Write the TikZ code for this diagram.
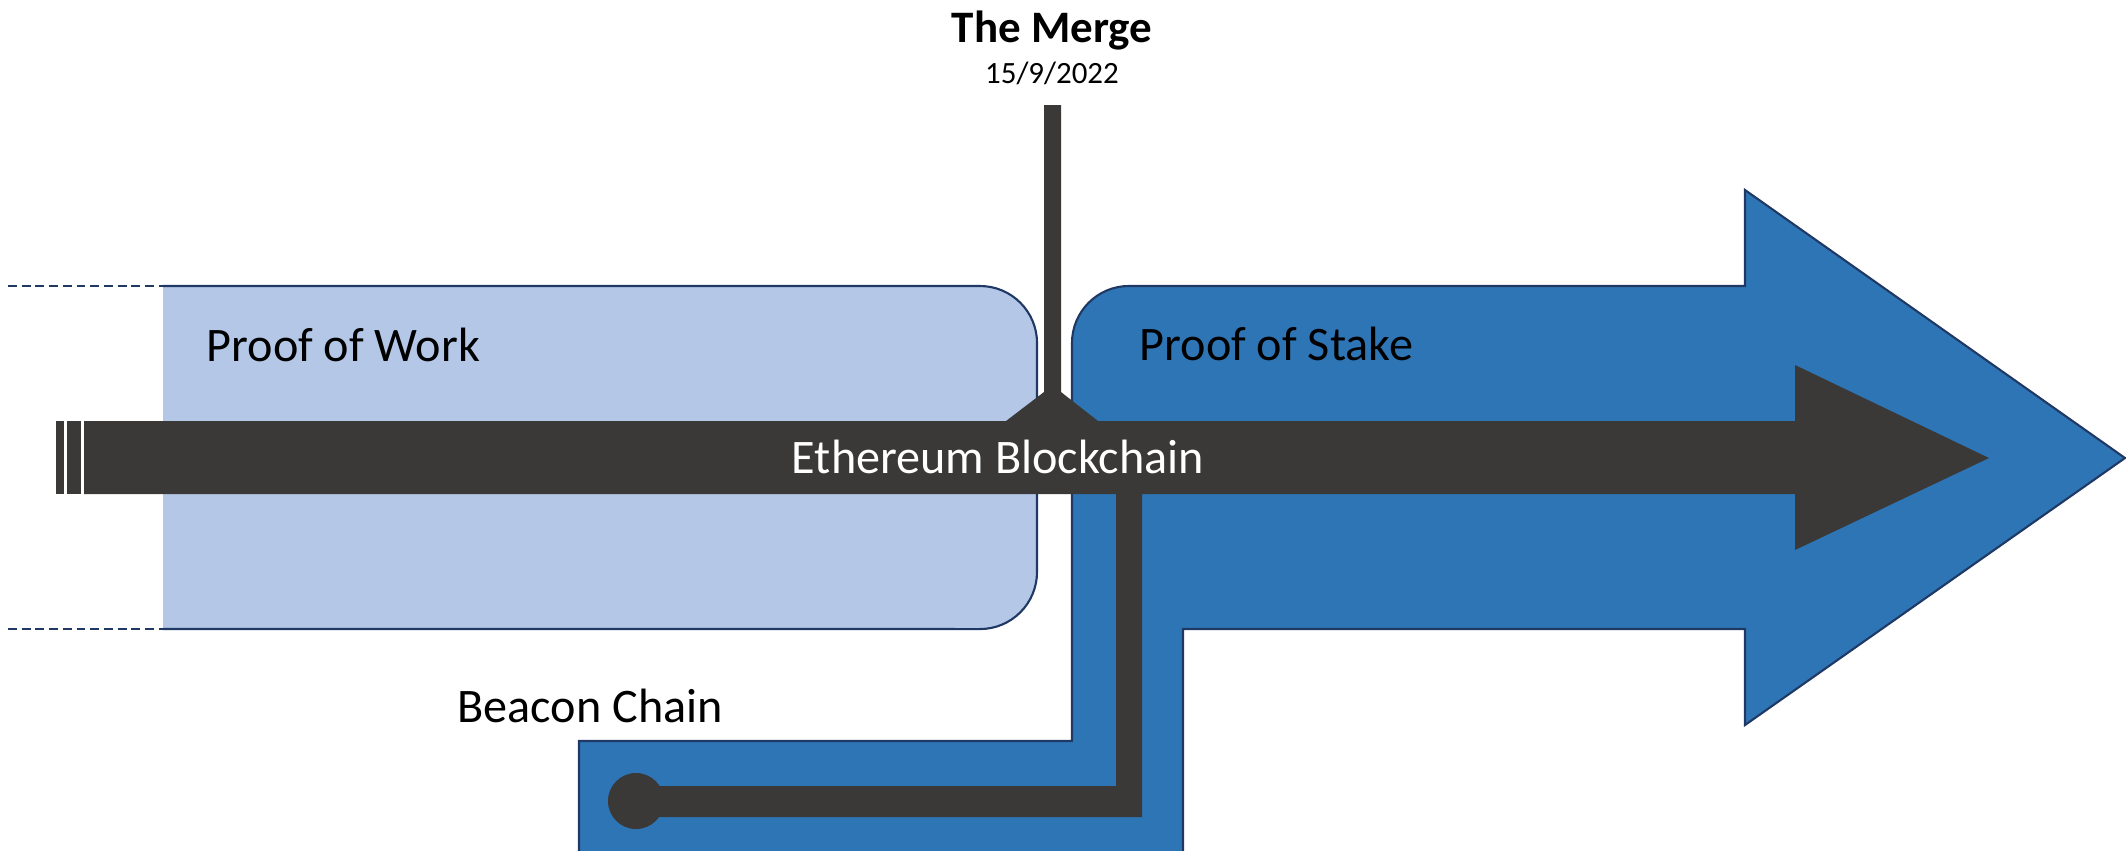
\documentclass[tikz,border=0pt]{standalone}
\usepackage{fontspec}
\setmainfont{Carlito}
\usepackage{tikz}
\usetikzlibrary{calc}

\definecolor{powblue}{HTML}{B4C7E7}
\definecolor{posblue}{HTML}{2E75B6}
\definecolor{rimblue}{HTML}{1F3864}
\definecolor{chaingray}{HTML}{3A3938}

\begin{document}
\begin{tikzpicture}[x=0.01cm,y=-0.01cm]

\tikzstyle{chainfill}=[fill=chaingray,draw=none]
\tikzstyle{rim}=[draw=rimblue,line width=0.6pt]
\tikzstyle{eratext}=[inner sep=0pt,font=\fontsize{13.7}{16}\selectfont]

\useasboundingbox (0,0) rectangle (2126,850);
\clip (0,0) rectangle (2126,850);

% ERA LIMITS
\draw [rim,dash pattern=on 2.5pt off 1.4pt] (8,286) -- (200,286);
\draw [rim,dash pattern=on 2.5pt off 1.4pt] (8,629) -- (200,629);

% PROOF OF WORK
\fill [powblue] (163,286) -- (980,286) arc [start angle=90,end angle=0,radius=0.57cm] -- (1037,572) arc [start angle=0,end angle=-90,radius=0.57cm] -- (163,629) -- cycle;
\draw [rim] (163,286) -- (980,286) arc [start angle=90,end angle=0,radius=0.57cm] -- (1037,572) arc [start angle=0,end angle=-90,radius=0.57cm] -- (163,629);

% PROOF OF STAKE
\draw [rim,fill=posblue] (1072,741) -- (1072,343) arc [start angle=180,end angle=90,radius=0.57cm] -- (1745,286) -- (1745,190) -- (2125,458) -- (1745,725) -- (1745,629) -- (1183,629) -- (1183,870) -- (579,870) -- (579,741) -- cycle;

% BLOCKCHAIN
\fill [chainfill] (56,421) rectangle (64,494);
\fill [chainfill] (67,421) rectangle (81,494);
\fill [chainfill] (84,421) -- (1795,421) -- (1795,365) -- (1989,458) -- (1795,550) -- (1795,494) -- (84,494) -- cycle;

% MERGE
\fill [chainfill] (1044,105) -- (1061,105) -- (1061,392) -- (1098,421) -- (1006,421) -- (1044,392) -- cycle;

% BEACON
\fill [chainfill] (636,786) -- (1116,786) -- (1116,494) -- (1142,494) -- (1142,817) -- (636,817) -- cycle;
\fill [chainfill] (636,801) circle [radius=0.28cm];

% TEXTS
\node (pow) [eratext,anchor=base west] at (206,361) {Proof of Work};
\node (pos) [eratext,anchor=base west] at (1139,360) {Proof of Stake};
\node (eth) [eratext,anchor=base,text=white] at (998,473) {Ethereum Blockchain};
\node (beacon) [eratext,anchor=base west] at (457,722) {Beacon Chain};
\node (merge) [anchor=base,inner sep=0pt,font=\fontsize{12.8}{15}\selectfont\bfseries] at (1052,42) {The Merge};
\node (date) [anchor=base,inner sep=0pt,font=\fontsize{8.8}{10}\selectfont] at (1052,83) {15/9/2022};

\end{tikzpicture}
\end{document}
